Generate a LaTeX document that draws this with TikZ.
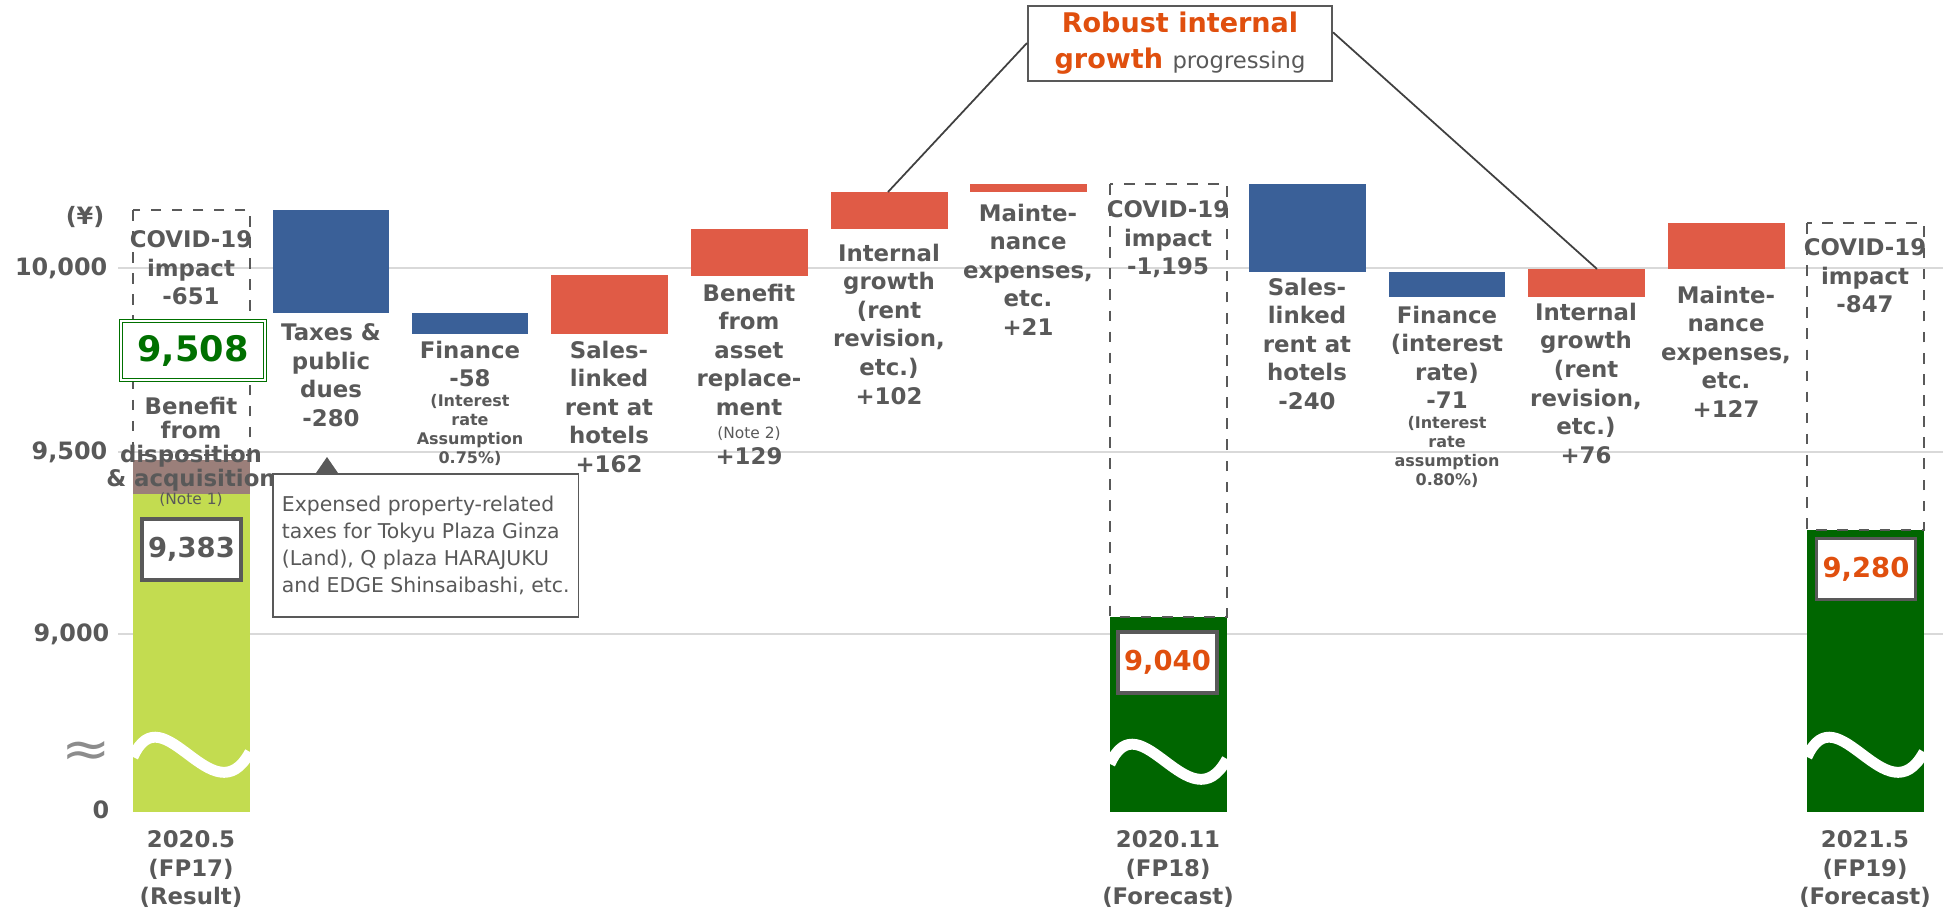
\documentclass[tikz,border=0pt]{standalone}
\usepackage{fontspec}
\setmainfont{DejaVu Sans}
\usepackage{xcolor}
\usepackage{tikz}
\usetikzlibrary{positioning}

\definecolor{txtgray}{HTML}{595959}
\definecolor{gridgray}{HTML}{D9D9D9}
\definecolor{wavegray}{HTML}{8C8C8C}
\definecolor{linegray}{HTML}{404040}
\definecolor{barblue}{HTML}{3A6098}
\definecolor{barred}{HTML}{E05B46}
\definecolor{barlime}{HTML}{C3DC50}
\definecolor{barbrown}{HTML}{9B7F7A}
\definecolor{bargreen}{HTML}{006600}
\definecolor{totgreen}{HTML}{007000}
\definecolor{accent}{HTML}{E04F0E}

\begin{document}
\begin{tikzpicture}[
    x=0.1mm, y=-0.1mm,
    every node/.style={text=txtgray, inner sep=0pt},
    lbl/.style={anchor=north, align=center, font=\bfseries\fontsize{6.5}{8.15}\selectfont},
    sublbl/.style={anchor=north, align=center, font=\bfseries\fontsize{4.55}{5.4}\selectfont},
    notelbl/.style={align=center, font=\fontsize{4.4}{5.4}\selectfont},
    axlbl/.style={anchor=east, font=\bfseries\fontsize{6.8}{8}\selectfont},
    valbox/.style={draw=txtgray, line width=1.1pt, fill=white, minimum width=9.9mm,
      minimum height=6.1mm, font=\bfseries\fontsize{7.8}{9}\selectfont},
    gridline/.style={gridgray, line width=0.57pt},
    covid box/.style={draw=txtgray, dashed, line width=0.43pt},
    breakline/.style={white, line width=3.1pt},
    callout line/.style={draw=linegray, line width=0.5pt},
  ]
  \useasboundingbox (0,0) rectangle (1958,908);

  % Grid lines
  \draw[gridline] (118,268) -- (1943,268);
  \draw[gridline] (118,452) -- (1943,452);
  \draw[gridline] (118,634) -- (1943,634);

  % Axis labels
  \node[axlbl] (yen)    at (105,217) {(¥)};
  \node[axlbl] (t10000) at (108,268) {10,000};
  \node[axlbl] (t9500)  at (108,452) {9,500};
  \node[axlbl] (t9000)  at (110,634) {9,000};
  \node[axlbl] (t0)     at (110,810) {0};
  \node[font=\fontsize{12}{12}\selectfont, text=wavegray, xscale=1.4, yscale=1.2] (brk) at (86,754) {≈};

  % Total bars
  \fill[barlime]  (133,494) rectangle (250,812);
  \fill[barbrown] (133,460) rectangle (250,494);
  \fill[bargreen] (1110,617) rectangle (1227,812);
  \fill[bargreen] (1807,530) rectangle (1924,812);

  % Change bars, FP17 to FP18
  \fill[barblue] (273,210) rectangle (389,313);
  \fill[barblue] (412,313) rectangle (528,334);
  \fill[barred]  (551,275) rectangle (668,334);
  \fill[barred]  (691,229) rectangle (808,276);
  \fill[barred]  (831,192) rectangle (948,229);
  \fill[barred]  (970,184) rectangle (1087,192);

  % Change bars, FP18 to FP19
  \fill[barblue] (1249,184) rectangle (1366,272);
  \fill[barblue] (1389,272) rectangle (1505,297);
  \fill[barred]  (1528,269) rectangle (1645,297);
  \fill[barred]  (1668,223) rectangle (1785,269);

  % COVID-19 boxes
  \draw[covid box] (133,210) rectangle (250,455);
  \draw[covid box] (1110,184) rectangle (1227,617);
  \draw[covid box] (1807,223) rectangle (1924,530);

  % Axis breaks
  \draw[breakline] (133,757) .. controls (163,690) and (213,820) .. (250,752);
  \draw[breakline] (1110,764) .. controls (1140,697) and (1190,827) .. (1227,759);
  \draw[breakline] (1807,757) .. controls (1837,690) and (1887,820) .. (1924,752);

  % FP17 column
  \node[lbl] (covid1) at (191,230) {COVID-19\\impact\\-651};
  \node[lbl, font=\bfseries\fontsize{6.5}{6.9}\selectfont] (dispo) at (191,396)
    {Benefit\\from\\disposition\\\& acquisition};
  \node[notelbl] (note1) at (191,500) {(Note 1)};
  \node[draw=totgreen, line width=0.4pt, double=white, double distance=0.45pt, fill=white,
    minimum width=14.4mm, minimum height=5.9mm, text=totgreen,
    font=\bfseries\fontsize{10}{11}\selectfont] (v9508) at (193,350.5) {9,508};
  \node[valbox] (v9383) at (191.5,549.5) {9,383};

  % Labels, FP17 to FP18
  \node[lbl] (taxes) at (331,323) {Taxes \&\\public\\dues\\-280};
  \node[lbl] (fin1) at (470,340) {Finance\\-58};
  \node[sublbl, below=0.6mm of fin1] (fin1note) {(Interest\\rate\\Assumption\\0.75\%)};
  \node[lbl] (sales1) at (609,340) {Sales-\\linked\\rent at\\hotels\\+162};
  \node[lbl] (benefit) at (749,283) {Benefit\\from\\asset\\replace-\\ment};
  \node[notelbl, anchor=north, below=0.9mm of benefit] (note2) {(Note 2)};
  \node[lbl, below=0.6mm of note2] (benefitval) {+129};
  \node[lbl] (growth1) at (889,243) {Internal\\growth\\(rent\\revision,\\etc.)\\+102};
  \node[lbl] (maint1) at (1028,203) {Mainte-\\nance\\expenses,\\etc.\\+21};

  % FP18 column
  \node[lbl] (covid2) at (1168,200) {COVID-19\\impact\\-1,195};
  \node[valbox, text=accent] (v9040) at (1167.5,662.5) {9,040};

  % Labels, FP18 to FP19
  \node[lbl] (sales2) at (1307,277) {Sales-\\linked\\rent at\\hotels\\-240};
  \node[lbl] (fin2) at (1447,305) {Finance\\(interest\\rate)\\-71};
  \node[sublbl, below=0.6mm of fin2] (fin2note) {(Interest\\rate\\assumption\\0.80\%)};
  \node[lbl] (growth2) at (1586,302) {Internal\\growth\\(rent\\revision,\\etc.)\\+76};
  \node[lbl] (maint2) at (1726,285) {Mainte-\\nance\\expenses,\\etc.\\+127};

  % FP19 column
  \node[lbl] (covid3) at (1865,238) {COVID-19\\impact\\-847};
  \node[valbox, text=accent] (v9280) at (1866,569) {9,280};

  % Period labels
  \node[lbl] (fp17) at (191,830) {2020.5\\(FP17)\\(Result)};
  \node[lbl] (fp18) at (1168,830) {2020.11\\(FP18)\\(Forecast)};
  \node[lbl] (fp19) at (1865,830) {2021.5\\(FP19)\\(Forecast)};

  % Tax note
  \node[draw=txtgray, line width=0.5pt, fill=white, anchor=north west, align=left,
    inner xsep=0.9mm, minimum height=14.3mm, font=\fontsize{5.8}{7.6}\selectfont]
    (taxnote) at (272,473)
    {Expensed property-related\\taxes for Tokyu Plaza Ginza\\(Land), Q plaza HARAJUKU\\and EDGE Shinsaibashi, etc.};
  \fill[txtgray] ([xshift=4.4mm]taxnote.north west) -- ++(11,-16) -- ++(11,16) -- cycle;

  % Internal growth callout
  \coordinate (growth1top) at (888,192);
  \coordinate (growth2top) at (1597,269);
  \node[draw=txtgray, line width=0.57pt, fill=white, align=center,
    minimum width=30.4mm, minimum height=7.5mm, text=accent,
    font=\bfseries\fontsize{7.7}{10.2}\selectfont] (robust) at (1180,43)
    {Robust internal\\growth {\mdseries\fontsize{6.45}{10.2}\selectfont\textcolor{txtgray}{progressing}}};
  \draw[callout line] (robust.west) -- (growth1top);
  \draw[callout line] (robust.4) -- (growth2top);

\end{tikzpicture}
\end{document}
